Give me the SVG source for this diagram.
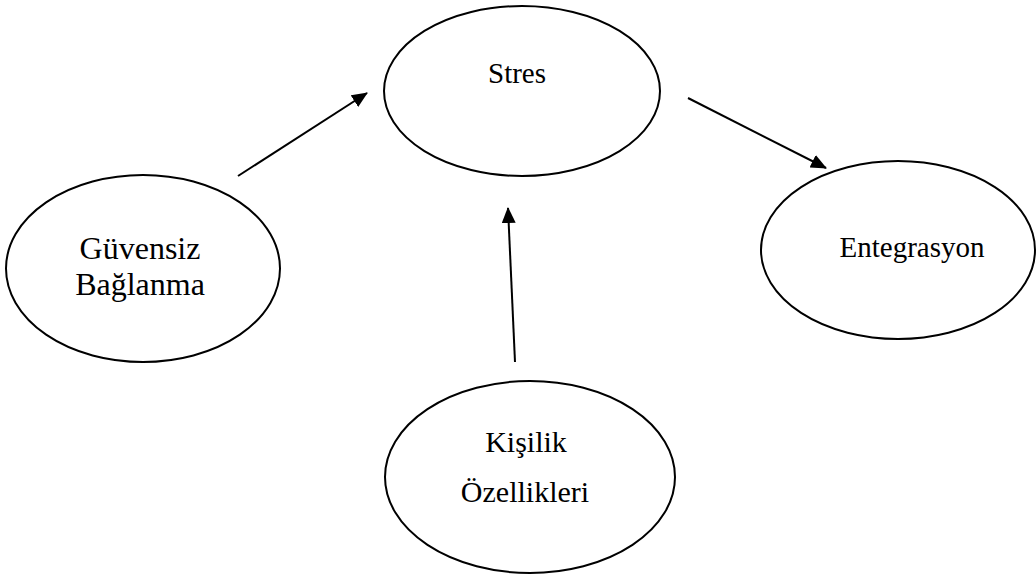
<svg xmlns="http://www.w3.org/2000/svg" width="1036" height="574" viewBox="0 0 1036 574">
<style>
.n ellipse{fill:#fff;stroke:#000;stroke-width:2}
.n text{font-family:"Liberation Serif","Times New Roman",serif;fill:#000;text-anchor:middle}
.c line{stroke:#000;stroke-width:2;marker-end:url(#ah)}
</style>
<defs>
<marker id="ah" markerUnits="userSpaceOnUse" markerWidth="16" markerHeight="14" refX="15" refY="7" orient="auto">
<path d="M0,0 L16,7 L0,14 Z" fill="#000"/>
</marker>
</defs>
<rect width="1036" height="574" fill="#fff"/>
<g id="stres" class="n">
<ellipse cx="522" cy="91" rx="138" ry="85"/>
<text x="517" y="83" font-size="29">Stres</text>
</g>
<g id="guvensiz" class="n">
<ellipse cx="143" cy="268.5" rx="137" ry="93.5"/>
<text x="140" y="259" font-size="32">Güvensiz</text>
<text x="140" y="295" font-size="32">Bağlanma</text>
</g>
<g id="entegrasyon" class="n">
<ellipse cx="898" cy="250" rx="137" ry="89"/>
<text x="912" y="257" font-size="29">Entegrasyon</text>
</g>
<g id="kisilik" class="n">
<ellipse cx="530" cy="477" rx="145" ry="96"/>
<text x="526" y="452" font-size="30">Kişilik</text>
<text x="525" y="502" font-size="30">Özellikleri</text>
</g>
<g id="connectors" class="c">
<line x1="238" y1="176" x2="367" y2="93"/>
<line x1="688" y1="98" x2="826" y2="168"/>
<line x1="515" y1="362" x2="508" y2="208"/>
</g>
</svg>
